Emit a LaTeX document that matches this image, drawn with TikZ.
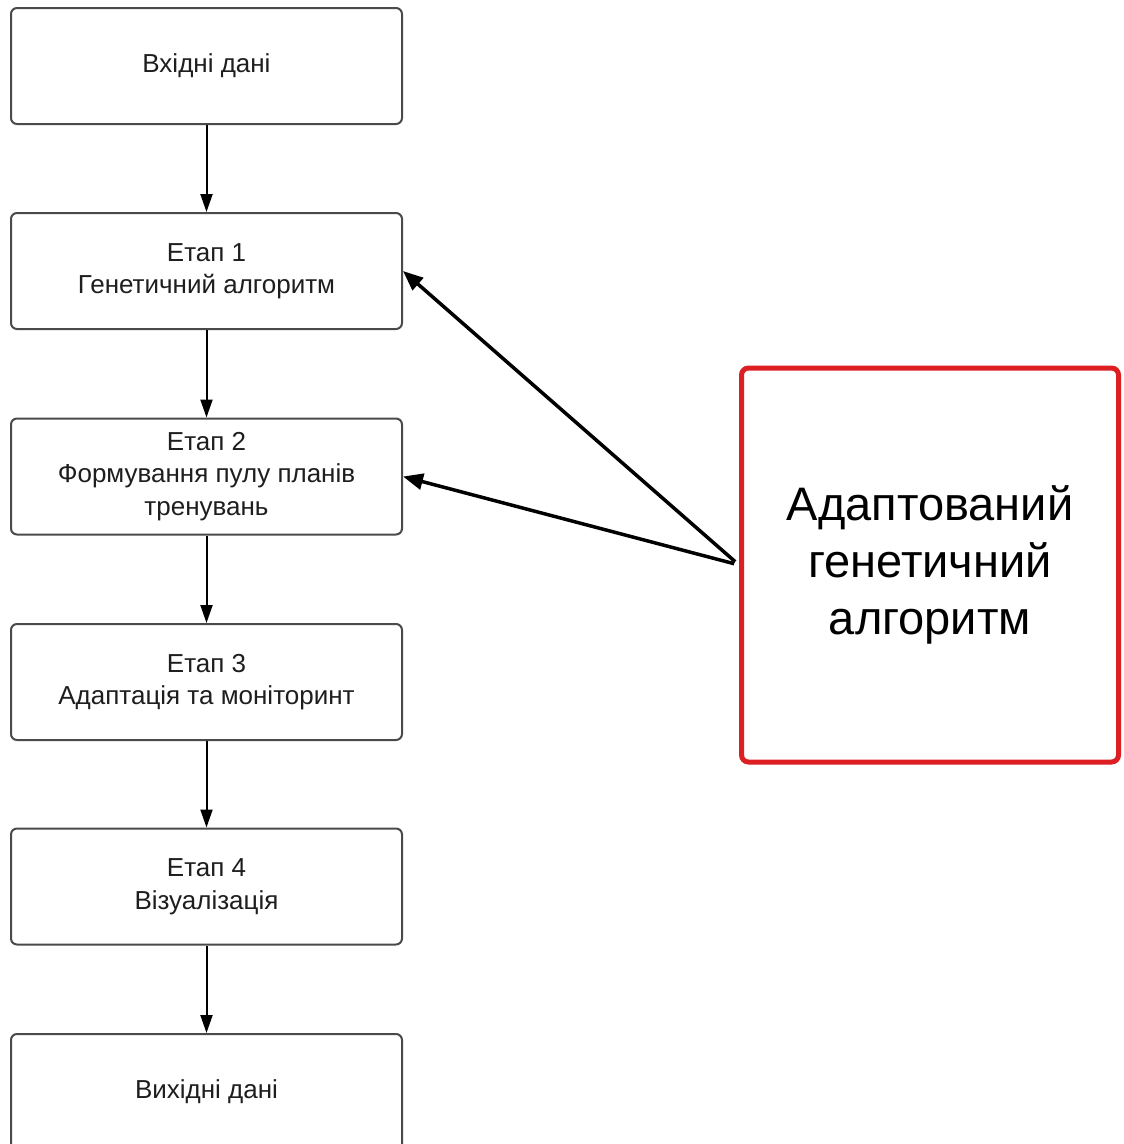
\documentclass[tikz,border=0pt]{standalone}
\usepackage{fontspec}
\setmainfont{Liberation Sans}
\usetikzlibrary{arrows.meta}
\definecolor{boxgray}{HTML}{4A4A4A}
\definecolor{txt}{HTML}{1E1E1E}
\definecolor{redline}{HTML}{DD1F24}
\tikzset{
  stagebox/.style={draw=boxgray, line width=2pt, rounded corners=6pt, fill=white,
    minimum width=391pt, minimum height=116pt, align=center, text=txt,
    font=\fontsize{26pt}{32.5pt}\selectfont, inner sep=0pt},
  bigbox/.style={draw=redline, line width=5pt, rounded corners=7pt, fill=white,
    minimum width=377pt, minimum height=394pt, align=center, text=black,
    font=\fontsize{47pt}{57pt}\selectfont, inner sep=0pt},
  vflow/.style={draw=black, line width=2pt, -{Triangle[length=18pt,width=12pt]}},
  dflow/.style={draw=black, line width=3.5pt, -{Triangle[length=20pt,width=16pt]}, shorten <=5pt}
}
\begin{document}
\begin{tikzpicture}[x=1pt,y=-1pt]
\useasboundingbox (0,0) rectangle (1124,1144);
\clip (0,0) rectangle (1124,1144);
\node[stagebox] (b0) at (206.5,66) {Вхідні дані};
\node[stagebox] (b1) at (206.5,271) {Етап 1\\Генетичний алгоритм};
\node[stagebox] (b2) at (206.5,476.5) {Етап 2\\Формування пулу планів\\тренувань};
\node[stagebox] (b3) at (206.5,682) {Етап 3\\Адаптація та моніторинт};
\node[stagebox] (b4) at (206.5,886.5) {Етап 4\\Візуалізація};
\node[stagebox] (b5) at (206.5,1092) {Вихідні дані};
\node[bigbox] (ga) at (930,565) {Адаптований\\генетичний\\алгоритм};
\draw[vflow] (b0) -- (b1);
\draw[vflow] (b1) -- (b2);
\draw[vflow] (b2) -- (b3);
\draw[vflow] (b3) -- (b4);
\draw[vflow] (b4) -- (b5);
\draw[dflow] (ga.west) -- (b1.east);
\draw[dflow] (ga.west) -- (b2.east);
\end{tikzpicture}
\end{document}
